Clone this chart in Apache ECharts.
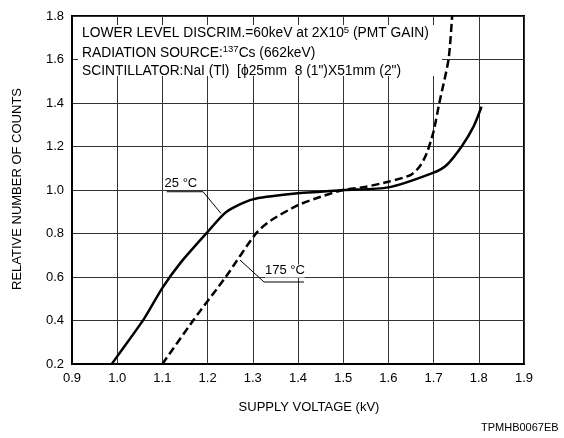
<!DOCTYPE html>
<html>
<head>
<meta charset="utf-8">
<script src="https://cdn.jsdelivr.net/npm/echarts@6/dist/echarts.min.js"></script>
<style>
html,body{margin:0;padding:0;background:#fff}
#chart{width:564px;height:438px}
</style>
</head>
<body>
<div id="chart"></div>
<script>
// supply voltage (kV) / relative counts
var v25=[0.988,1.0,1.06,1.1,1.14,1.2,1.242,1.3,1.4,1.45,1.5,1.6,1.7,1.729,1.762,1.788,1.806];
var c25=[0.2,0.235,0.41,0.55,0.665,0.807,0.9,0.957,0.985,0.992,1.0,1.012,1.08,1.115,1.2,1.29,1.383];
var v175=[1.1,1.168,1.24,1.307,1.34,1.4,1.45,1.5,1.55,1.6,1.65,1.67,1.685,1.7,1.7126,1.733,1.741];
var c175=[0.2,0.4,0.6,0.8,0.86,0.93,0.969,1.0,1.015,1.038,1.07,1.11,1.17,1.27,1.4,1.6,1.8];
var xTicks=[0.9,1.9,0.1];
var yTicks=[0.2,1.8,0.2];

function pairs(xs,ys){return xs.map(function(x,i){return [x,ys[i]]})}

var font='"Liberation Sans", Arial, sans-serif';
var c=echarts.init(document.getElementById('chart'));
c.setOption({
 animation:false,
 grid:{left:72,right:40,top:16,bottom:74,show:true,borderColor:'#000',borderWidth:2},
 xAxis:{type:'value',min:xTicks[0],max:xTicks[1],interval:xTicks[2],
  axisLine:{lineStyle:{color:'#000',width:2}},axisTick:{show:false},
  splitLine:{lineStyle:{color:'#333',width:1}},
  axisLabel:{color:'#000',fontFamily:font,fontSize:13,margin:8,formatter:function(v){return v.toFixed(1)}}},
 yAxis:{type:'value',min:yTicks[0],max:yTicks[1],interval:yTicks[2],
  axisLine:{show:true,lineStyle:{color:'#000',width:2}},axisTick:{show:false},
  splitLine:{lineStyle:{color:'#333',width:1}},
  axisLabel:{color:'#000',fontFamily:font,fontSize:13,margin:8,formatter:function(v){return v.toFixed(1)}}},
 series:[
  {name:'25 °C',type:'line',data:pairs(v25,c25),symbol:'none',smooth:0.25,clip:true,
   lineStyle:{color:'#000',width:2.5}},
  {name:'175 °C',type:'line',data:pairs(v175,c175),symbol:'none',smooth:0.25,clip:true,
   lineStyle:{color:'#000',width:2.5,type:[8,4]}}
 ]
});

function px(x,y){return c.convertToPixel({gridIndex:0},[x,y])}
var a1=px(1.1095,0.992),a2=px(1.19,0.992),a3=px(1.2297,0.892);
var b1=px(1.2717,0.678),b2=px(1.3248,0.577),b3=px(1.4133,0.577);
var t25=px(1.141,1.032),t175=px(1.371,0.628);

c.setOption({graphic:[
 {type:'rect',shape:{x:78,y:25,width:364,height:51},style:{fill:'#fff'},z:10},
 {type:'text',left:82,top:25,z:11,style:{fontFamily:font,fontSize:13.8,fill:'#000',
  text:'LOWER LEVEL DISCRIM.=60keV at 2X10{s|5} (PMT GAIN)',rich:{s:{fontSize:9.5,padding:[0,0,7,0],fontFamily:font}}}},
 {type:'text',left:82,top:44.5,z:11,style:{fontFamily:font,fontSize:13.8,fill:'#000',
  text:'RADIATION SOURCE:{s|137}Cs (662keV)',rich:{s:{fontSize:9.5,padding:[0,0,7,0],fontFamily:font}}}},
 {type:'text',left:82,top:64,z:11,style:{fontFamily:font,fontSize:13.8,fill:'#000',
  text:'SCINTILLATOR:NaI (Tl)  [\u03d525mm  8 (1")X51mm (2")'}},
 {type:'polyline',shape:{points:[a1,a2,a3]},style:{stroke:'#000',lineWidth:1,fill:null},z:5},
 {type:'polyline',shape:{points:[b1,b2,b3]},style:{stroke:'#000',lineWidth:1,fill:null},z:5},
 {type:'text',x:t25[0],y:t25[1],z:6,style:{text:'25 °C',fontFamily:font,fontSize:13,fill:'#000',backgroundColor:'#fff',align:'center',verticalAlign:'middle'}},
 {type:'text',x:t175[0],y:t175[1],z:6,style:{text:'175 °C',fontFamily:font,fontSize:13,fill:'#000',backgroundColor:'#fff',align:'center',verticalAlign:'middle'}},
 {type:'text',x:309,y:407,style:{text:'SUPPLY VOLTAGE (kV)',fontFamily:font,fontSize:13,fill:'#000',align:'center',verticalAlign:'middle'}},
 {type:'text',x:17,y:189,rotation:Math.PI/2,style:{text:'RELATIVE NUMBER OF COUNTS',fontFamily:font,fontSize:13,fill:'#000',align:'center',verticalAlign:'middle'}},
 {type:'text',left:481,top:422,style:{text:'TPMHB0067EB',fontFamily:font,fontSize:11,fill:'#000'}}
]});
</script>
</body>
</html>
